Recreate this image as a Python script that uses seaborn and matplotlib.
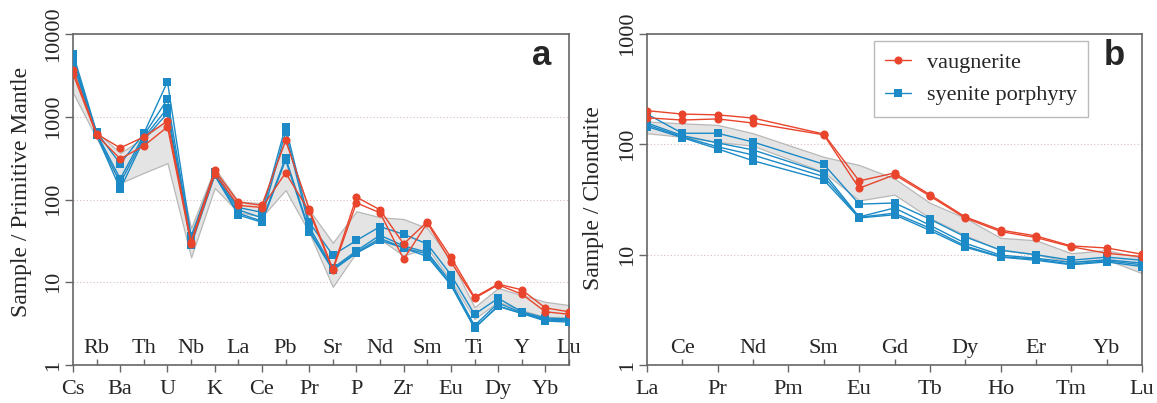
import numpy as np
import pandas as pd
import matplotlib
matplotlib.use('Agg')
import matplotlib.pyplot as plt
import seaborn as sns

# primitive-mantle normalised spider diagram (panel a)
pm_elements = ['Cs', 'Rb', 'Ba', 'Th', 'U', 'Nb', 'K', 'La', 'Ce', 'Pb', 'Pr',
               'Sr', 'P', 'Nd', 'Zr', 'Sm', 'Eu', 'Ti', 'Dy', 'Y', 'Yb', 'Lu']
pm_vaug_1 = [3700, 620, 420, 570, 890, 31, 225, 93, 85, 520, 77,
             14.5, 107, 75, 29, 54, 20, 6.6, 9.5, 8.1, 4.9, 4.4]
pm_vaug_2 = [3300, 600, 310, 445, 755, 29, 205, 85, 80, 210, 72,
             14, 91, 69, 19, 52, 17.7, 6.4, 9.3, 7.2, 4.4, 4.1]
pm_sye_1 = [5800, 650, 270, 630, 2650, 36, 215, 80, 70, 760, 53,
            21.3, 32, 47, 38, 29, 12.3, 4.1, 6.4, 4.4, 3.7, 3.6]
pm_sye_2 = [5200, 630, 178, 600, 1630, 33, 200, 75, 60, 650, 47,
            14.8, 24, 37, 27.5, 23, 10, 3.0, 5.6, 4.3, 3.6, 3.5]
pm_sye_3 = [4700, 610, 158, 560, 1270, 30, 198, 68, 55, 320, 43,
            14.2, 23, 34, 26, 22, 9.3, 2.8, 5.2, 4.2, 3.5, 3.4]
pm_sye_4 = [4400, 600, 134, 530, 1100, 28, 195, 65, 53, 300, 41,
            14, 22.5, 32, 26, 20.4, 9.3, 2.8, 5.1, 4.2, 3.4, 3.3]
pm_env_upper = [3600, 650, 365, 560, 910, 45, 240, 95, 90, 525, 75,
                30, 72, 61, 58, 45, 18.6, 5.0, 8.5, 7.0, 5.8, 5.3]
pm_env_lower = [1950, 550, 158, 210, 275, 20, 138, 70, 62, 130, 40,
                8.8, 23, 33, 21, 26, 10.5, 3.6, 5.8, 4.6, 3.8, 3.8]

# chondrite normalised REE pattern (panel b), Pm has no data
ree_elements = ['La', 'Ce', 'Pr', 'Nd', 'Pm', 'Sm', 'Eu', 'Gd', 'Tb', 'Dy',
                'Ho', 'Er', 'Tm', 'Yb', 'Lu']
nan = np.nan
ree_vaug_1 = [202, 188, 185, 173, nan, 124, 46.6, 55, 35, 22, 16.7, 14.8, 12, 11.5, 10.1]
ree_vaug_2 = [174, 166, 170, 156, nan, 122, 40, 53, 34, 21.5, 16.2, 14.3, 11.8, 10.3, 9.6]
ree_sye_1 = [188, 126, 126, 105, nan, 66, 28.7, 29.4, 21, 14.5, 11, 10, 8.9, 9.5, 8.9]
ree_sye_2 = [156, 120, 103, 89, nan, 55, 22, 26.5, 18.5, 12.7, 9.9, 9.3, 8.5, 9.0, 8.4]
ree_sye_3 = [150, 117, 95, 80, nan, 51, 21.8, 23.8, 17.4, 12.0, 9.6, 9.1, 8.2, 8.8, 8.1]
ree_sye_4 = [145, 115, 91, 71, nan, 47.5, 21.5, 23, 16.6, 11.7, 9.5, 8.9, 8.1, 8.6, 7.8]
ree_env_upper = [161, 155, 150, 126, nan, 77, 65, 49, 29.5, 21.5, 14.2, 13.5, 10.3, 11, 9.3]
ree_env_lower = [126, 117, 105, 97, nan, 56, 31, 35, 21.5, 15, 11, 10, 8.6, 9, 6.8]

RED = '#e8452c'
BLUE = '#1b8ac6'
AXC = '#666666'


def long_form(elements, groups):
    rows = []
    for rock, samples in groups.items():
        for k, s in enumerate(samples):
            for i, v in enumerate(s):
                if not np.isnan(v):
                    rows.append({'pos': i, 'value': v, 'rock': rock,
                                 'sample': rock + str(k)})
    return pd.DataFrame(rows)


sns.set_style('ticks')
plt.rcParams['font.family'] = ['Liberation Serif', 'DejaVu Serif']

fig = plt.figure(figsize=(11.57, 4.03), dpi=100)
ax_a = fig.add_axes([73 / 1157, 1 - 365 / 403, 496 / 1157, 331 / 403])
ax_b = fig.add_axes([647 / 1157, 1 - 365 / 403, 495 / 1157, 331 / 403])


def draw(ax, elements, groups, upper, lower, ylim, ylabel, label_xy, letter):
    n = len(elements)
    env = pd.DataFrame({'pos': range(n), 'up': upper, 'lo': lower}).dropna()
    ax.fill_between(env['pos'], env['lo'], env['up'], color='#e4e4e4',
                    edgecolor='#b8b8b8', linewidth=0.9, zorder=1)
    df = long_form(elements, groups)
    sns.lineplot(data=df, x='pos', y='value', hue='rock', style='rock',
                 units='sample', estimator=None, ax=ax,
                 hue_order=['syenite porphyry', 'vaugnerite'],
                 palette={'vaugnerite': RED, 'syenite porphyry': BLUE},
                 markers={'vaugnerite': 'o', 'syenite porphyry': 's'},
                 dashes=False, linewidth=1.0, markersize=5.8,
                 markeredgewidth=0, zorder=3)
    ax.set_yscale('log')
    ax.set_ylim(*ylim)
    ax.set_xlim(0, n - 1)
    dec = [10 ** k for k in range(int(np.log10(ylim[0])), int(np.log10(ylim[1])) + 1)]
    ax.set_yticks(dec, labels=[str(d) for d in dec])
    ax.yaxis.set_minor_locator(matplotlib.ticker.NullLocator())
    ax.set_xticks(range(0, n, 2), labels=elements[0::2])
    ax.set_xticks(range(1, n, 2), labels=elements[1::2], minor=True)
    ax.tick_params(axis='x', which='major', direction='out', length=5, width=1,
                   pad=6, labelsize=16, color=AXC)
    ax.tick_params(axis='x', which='minor', direction='in', length=4.5, width=1,
                   pad=-19, labelsize=16, color=AXC)
    ax.tick_params(axis='y', which='major', direction='out', length=5.5, width=1,
                   pad=1.5, labelsize=16, labelrotation=90, color=AXC)
    for lab in ax.get_yticklabels():
        lab.set_va('center')
    ax.yaxis.grid(True, which='major', linestyle=(0, (1, 2)), color='#d8bcbc',
                  linewidth=0.8)
    ax.set_axisbelow(True)
    for sp in ax.spines.values():
        sp.set_color(AXC)
        sp.set_linewidth(1.2)
    ax.set_xlabel('')
    ax.set_ylabel(ylabel, fontsize=17)
    ax.yaxis.set_label_coords(*label_xy)
    ax.text(0.944, 0.906, letter, transform=ax.transAxes, fontsize=25,
            fontweight='bold', family='Liberation Sans', ha='center', va='baseline')


draw(ax_a, pm_elements,
     {'vaugnerite': [pm_vaug_1, pm_vaug_2],
      'syenite porphyry': [pm_sye_1, pm_sye_2, pm_sye_3, pm_sye_4]},
     pm_env_upper, pm_env_lower, (1, 10000), 'Sample / Primitive Mantle',
     (-0.083, 0.522), 'a')
draw(ax_b, ree_elements,
     {'vaugnerite': [ree_vaug_1, ree_vaug_2],
      'syenite porphyry': [ree_sye_1, ree_sye_2, ree_sye_3, ree_sye_4]},
     ree_env_upper, ree_env_lower, (1, 1000), 'Sample / Chondrite',
     (-0.086, 0.503), 'b')

ax_a.get_legend().remove()
handles, labels = ax_b.get_legend_handles_labels()
hl = dict(zip(labels, handles))
ax_b.get_legend().remove()
leg = ax_b.legend([hl['vaugnerite'], hl['syenite porphyry']],
                  ['vaugnerite', 'syenite porphyry'],
                  loc='upper right', bbox_to_anchor=(0.891, 0.979),
                  borderaxespad=0, fontsize=16, handlelength=1.2,
                  handletextpad=0.7, borderpad=0.5, labelspacing=0.55,
                  fancybox=False, frameon=True)
leg.get_frame().set_edgecolor('#aaaaaa')
leg.get_frame().set_linewidth(1.0)

fig.savefig('out.png', dpi=100)
